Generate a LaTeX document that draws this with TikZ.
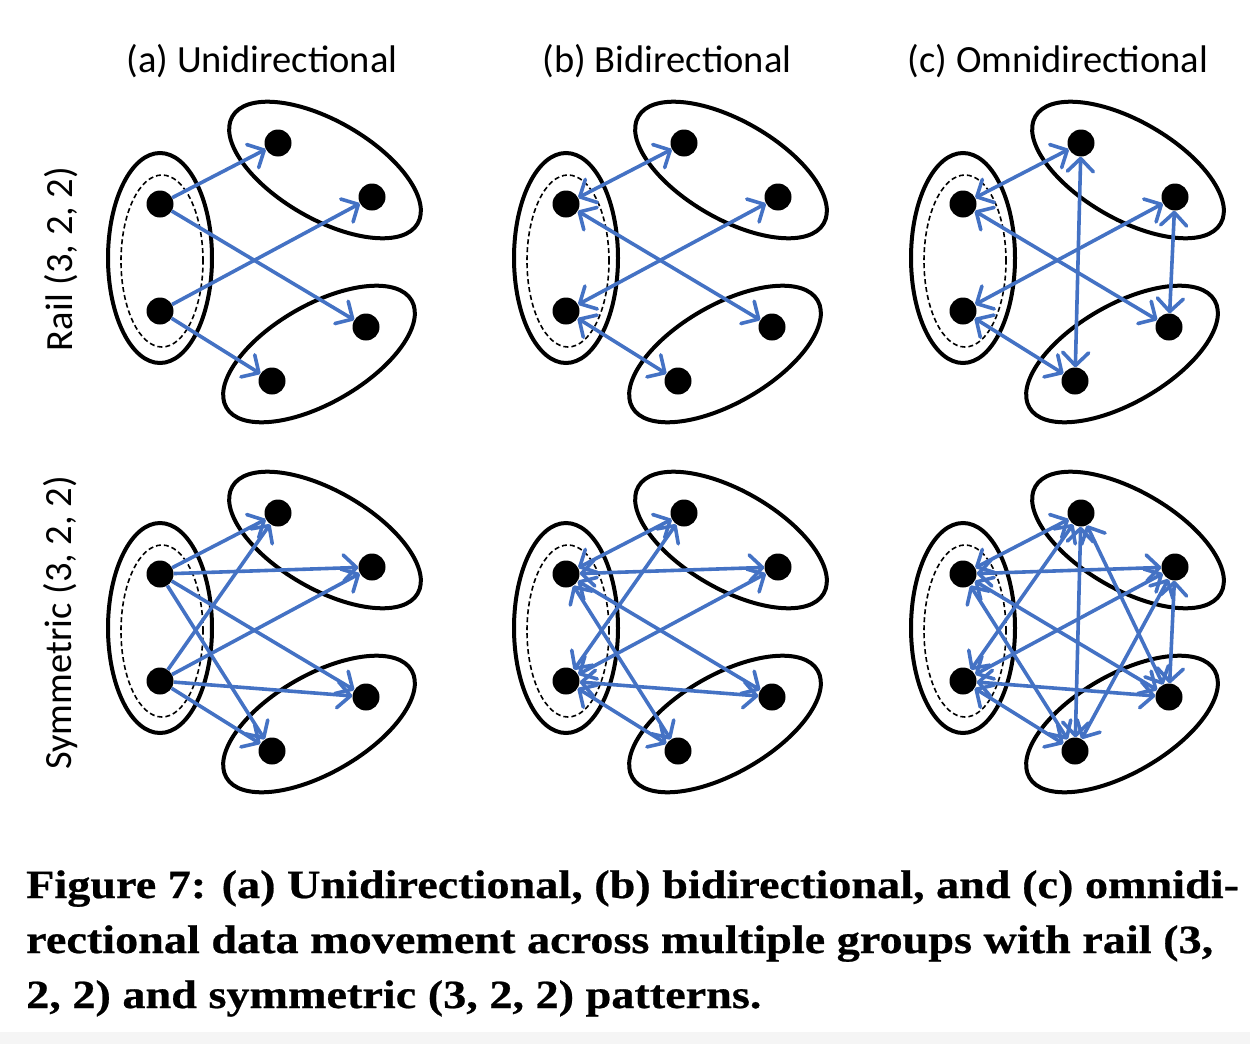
\documentclass[tikz,border=0pt]{standalone}
\usepackage{fontspec}
\setmainfont{Liberation Serif}
\newfontfamily\calibri{Carlito}
\newfontfamily\capfont[FakeStretch=1.155,FakeBold=0.6]{Liberation Serif Bold}
\usetikzlibrary{arrows.meta,shapes.geometric}
\definecolor{linkblue}{HTML}{4472C4}
\tikzstyle{dot}=[circle,fill=black,inner sep=0pt,minimum size=27pt]
\tikzstyle{grp}=[ellipse,draw=black,line width=4pt,inner sep=0pt]
\tikzstyle{railgrp}=[ellipse,draw=black,dash pattern=on 5pt off 3pt,line width=1.6pt,inner sep=0pt,
                     minimum width=82pt,minimum height=172pt]
\tikzstyle{uni}=[-{Straight Barb[length=13pt,width=26pt,round]},draw=linkblue,line width=3.6pt]
\tikzstyle{bi}=[{Straight Barb[length=13pt,width=26pt,round]}-{Straight Barb[length=13pt,width=26pt,round]},
                draw=linkblue,line width=3.6pt]
\tikzstyle{heading}=[font=\calibri\fontsize{38.5}{46}\selectfont,anchor=base,inner sep=0pt]
\tikzstyle{captext}=[font=\capfont\fontsize{40}{48}\selectfont,anchor=base west,inner sep=0pt]

% groups of one panel: #1 prefix, (#2,#3) position of the upper left dot
\newcommand{\drawgroups}[3]{%
  \begin{scope}[shift={(#2,#3)}]
    \node[grp,minimum width=104pt,minimum height=210pt] (#1g0) at (0,54) {};
    \node[railgrp] (#1rail) at (2,57) {};
    \node[grp,rotate=-30,minimum width=214pt,minimum height=98pt] (#1g1) at (165,-34) {};
    \node[grp,rotate=30,minimum width=214pt,minimum height=98pt] (#1g2) at (159,150) {};
    \node[dot] (#1l1) at (0,0) {};
    \node[dot] (#1l2) at (0,107) {};
    \node[dot] (#1t1) at (118,-61) {};
    \node[dot] (#1t2) at (212,-7) {};
    \node[dot] (#1b1) at (112,177) {};
    \node[dot] (#1b2) at (206,123) {};
  \end{scope}}

\begin{document}
\begin{tikzpicture}[x=1pt,y=-1pt]
  \useasboundingbox (0,0) rectangle (1250,1044);
  \fill[black!4] (0,1032) rectangle (1250,1044);

  % headings
  \node[heading] (ta) at (262,72) {(a) Unidirectional};
  \node[heading] (tb) at (667,72) {(b) Bidirectional};
  \node[heading] (tc) at (1058,72) {(c) Omnidirectional};
  \node[heading,rotate=90] (rrail) at (72,259) {Rail (3, 2, 2)};
  \node[heading,rotate=90] (rsym) at (71,623) {Symmetric (3, 2, 2)};

  \drawgroups{ra}{160}{204}
  \drawgroups{rb}{566}{204}
  \drawgroups{rc}{963}{204}
  \drawgroups{sa}{160}{574}
  \drawgroups{sb}{566}{574}
  \drawgroups{sc}{963}{574}

  % rail (3, 2, 2)
  \path (ral1) edge[uni] (rat1) (ral1) edge[uni] (rab2)
        (ral2) edge[uni] (rat2) (ral2) edge[uni] (rab1);
  \path (rbl1) edge[bi] (rbt1) (rbl1) edge[bi] (rbb2)
        (rbl2) edge[bi] (rbt2) (rbl2) edge[bi] (rbb1);
  \path (rcl1) edge[bi] (rct1) (rcl1) edge[bi] (rcb2)
        (rcl2) edge[bi] (rct2) (rcl2) edge[bi] (rcb1)
        (rct1) edge[bi] (rcb1) (rct2) edge[bi] (rcb2);

  % symmetric (3, 2, 2)
  \foreach \s in {l1,l2} {
    \foreach \d in {t1,t2,b1,b2} {
      \draw[uni] (sa\s) -- (sa\d);
      \draw[bi] (sb\s) -- (sb\d);
      \draw[bi] (sc\s) -- (sc\d);
    }
  }
  \path (sct1) edge[bi] (scb1) (sct2) edge[bi] (scb2)
        (sct1) edge[bi] (scb2) (sct2) edge[bi] (scb1);

  % caption
  \node[captext] (cap1) at (26,898) {Figure 7: (a) Unidirectional, (b) bidirectional, and (c) omnidi-};
  \node[captext] (cap2) at (26,953) {rectional data movement across multiple groups with rail (3,};
  \node[captext] (cap3) at (26,1008) {2, 2) and symmetric (3, 2, 2) patterns.};
\end{tikzpicture}
\end{document}
